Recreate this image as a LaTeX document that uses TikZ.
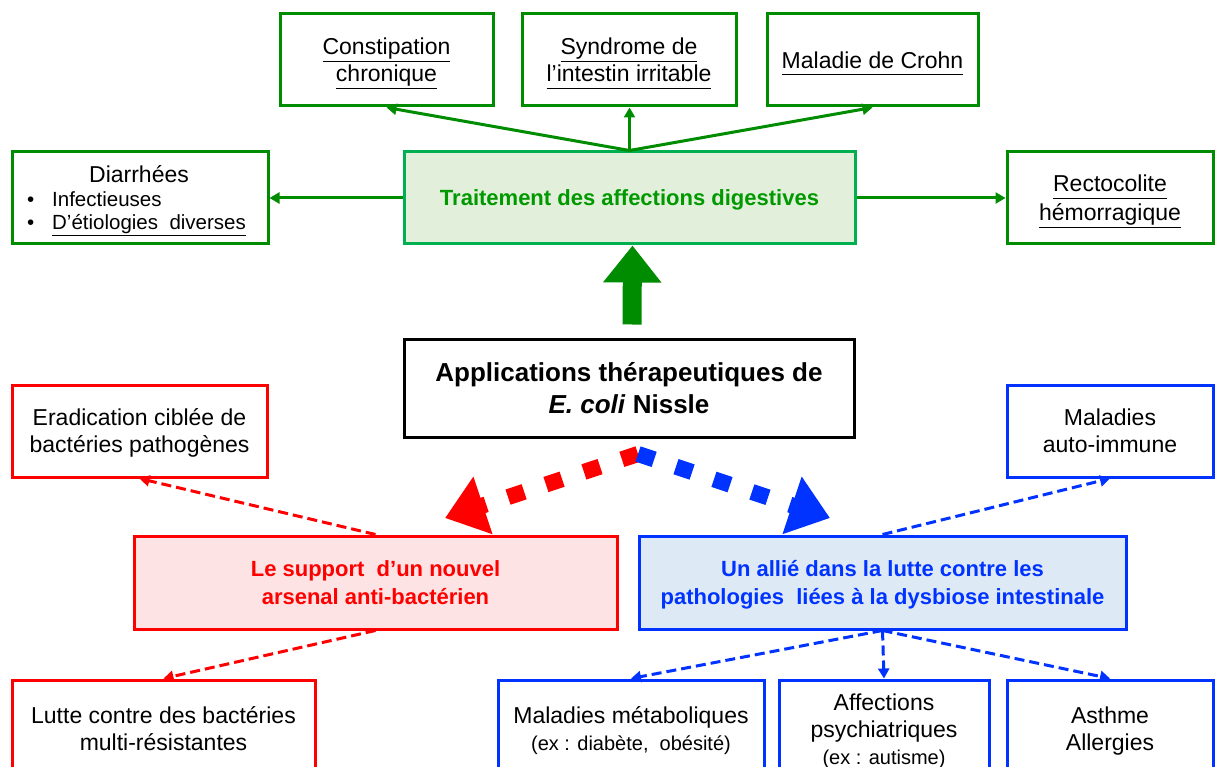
\documentclass[tikz,border=0pt]{standalone}
\usepackage{fontspec}
\setmainfont{Liberation Sans}
\usetikzlibrary{arrows.meta}
\definecolor{dkgreen}{RGB}{0,140,0}
\definecolor{trborder}{RGB}{0,176,80}
\definecolor{trfill}{RGB}{226,239,218}
\definecolor{trtext}{RGB}{0,153,0}
\definecolor{myred}{RGB}{255,0,0}
\definecolor{pinkfill}{RGB}{253,227,227}
\definecolor{myblue}{RGB}{0,51,255}
\definecolor{bluefill}{RGB}{222,233,246}
\newcommand\ulin[1]{\underline{#1\vphantom{gp}}}
\newcommand\txtfont{\fontsize{23}{27}\selectfont}
\newcommand\smallfont{\fontsize{20}{25}\selectfont}
\newcommand\boldfont{\fontsize{22}{28}\selectfont\bfseries}
\begin{document}
\begin{tikzpicture}[x=1pt,y=-1pt,
  box/.style={draw, line width=3pt, fill=white, inner sep=0pt, align=center, font=\txtfont, text depth=0pt},
  gbox/.style={box, draw=dkgreen, minimum height=92pt},
  rbox/.style={box, draw=myred},
  bbox/.style={box, draw=myblue},
  plain/.style={inner sep=0pt, align=center},
  garrow/.style={draw=dkgreen, line width=3pt, -{Triangle[length=10pt,width=11pt]}},
  rdash/.style={draw=myred, line width=3pt, dash pattern=on 10pt off 5pt, -{Triangle[length=10pt,width=11pt]}},
  bdash/.style={draw=myblue, line width=3pt, dash pattern=on 10pt off 5pt, -{Triangle[length=10pt,width=11pt]}},
  bigdash/.style={line width=16pt, dash pattern=on 17pt off 23pt, -{Triangle[length=40pt,width=58pt]}}
]
\clip (0,0) rectangle (1215,767);
\fill[white] (0,0) rectangle (1215,767);

% top green boxes
\node[gbox, minimum width=213pt] (cons) at (386.5,60) {\ulin{Constipation}\\\ulin{chronique}};
\node[gbox, minimum width=214pt] (synd) at (629,60) {\ulin{Syndrome de}\\\ulin{l’intestin irritable}};
\node[gbox, minimum width=211pt] (crohn) at (872.5,60) {\ulin{Maladie de Crohn}};

% middle row
\node[gbox, minimum width=256pt] (diar) at (140,198) {};
\node[plain, font=\txtfont] (diart) at (139,174) {Diarrhées};
\node[plain, anchor=base west, font=\fontsize{20.5}{24}\selectfont] (diar1) at (27,207) {\makebox[25pt][l]{•}Infectieuses};
\node[plain, anchor=base west, font=\fontsize{20.5}{24}\selectfont] (diar2) at (27,230) {\makebox[25pt][l]{•}\ulin{D’étiologies\ \ diverses}};

\node[box, draw=trborder, fill=trfill, minimum width=451pt, minimum height=92pt, font=\boldfont, text=trtext] (trait) at (629.5,198) {Traitement des affections digestives};
\node[gbox, minimum width=206pt, font=\fontsize{23}{29}\selectfont] (recto) at (1110,198) {\ulin{Rectocolite}\\\ulin{hémorragique}};

% central box
\node[box, draw=black, minimum width=450pt, minimum height=98pt, font=\fontsize{26}{32}\selectfont\bfseries] (app) at (629,388) {Applications thérapeutiques de\\\textit{E. coli} Nissle};

% red side
\node[rbox, minimum width=255pt, minimum height=92pt] (erad) at (139.5,431) {Eradication ciblée de\\bactéries pathogènes};
\node[rbox, fill=pinkfill, minimum width=483pt, minimum height=93pt, font=\boldfont, text=myred] (supp) at (375.5,582.5) {Le support\ \ d’un nouvel\\arsenal anti-bactérien};
\node[rbox, minimum width=303pt, minimum height=98pt] (lutte) at (163.5,729) {Lutte contre des bactéries\\multi-résistantes};

% blue side
\node[bbox, minimum width=206pt, minimum height=92pt] (auto) at (1110,431) {Maladies\\auto-immune};
\node[bbox, fill=bluefill, minimum width=487pt, minimum height=93pt, font=\boldfont, text=myblue] (allie) at (882.5,582.5) {Un allié dans la lutte contre les\\pathologies\ \ liées à la dysbiose intestinale};
\node[bbox, minimum width=266pt, minimum height=98pt] (meta) at (631,729) {Maladies métaboliques\\{\smallfont(ex : diabète,\ \ obésité)}};
\node[bbox, minimum width=210pt, minimum height=98pt] (psy) at (884,729) {Affections\\psychiatriques\\{\smallfont(ex : autisme)}};
\node[bbox, minimum width=206pt, minimum height=98pt] (asth) at (1110,729) {Asthme\\Allergies};

% green connectors
\draw[garrow] (trait.north) -- (cons.south);
\draw[garrow] (trait.north) -- (trait.north |- synd.south);
\draw[garrow] (trait.north) -- (crohn.south);
\draw[garrow] (trait.west) -- (diar.east);
\draw[garrow] (trait.east) -- (recto.west);

% big green arrow
\draw[draw=dkgreen, line width=19pt, -{Triangle[length=37pt,width=56pt]}] ([xshift=3pt,yshift=13pt]app.north) -- ([xshift=3pt]trait.south);

% big dashed arrows
\coordinate (peak) at (638,454);
\coordinate (rtip) at (445,518);
\coordinate (btip) at (830,518);
\draw[bigdash, draw=myred] (peak) -- (rtip);
\draw[bigdash, draw=myblue] (peak) -- (btip);

% red dashed connectors
\draw[rdash] (supp.north) -- (erad.south);
\draw[rdash] (supp.south) -- (lutte.north);

% blue dashed connectors
\draw[bdash] (allie.north) -- (auto.south);
\draw[bdash] (allie.south) -- (meta.north);
\draw[bdash] (allie.south) -- (psy.north);
\draw[bdash] (allie.south) -- (asth.north);
\end{tikzpicture}
\end{document}
